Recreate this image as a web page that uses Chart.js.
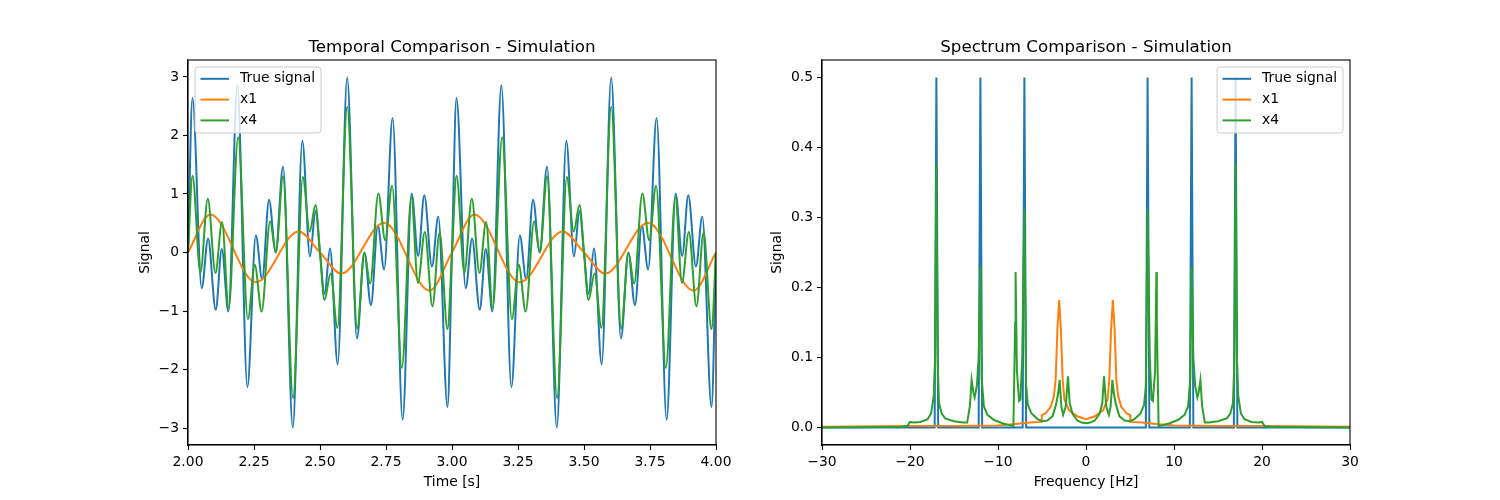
<!DOCTYPE html>
<html>
<head>
<meta charset="utf-8">
<script src="https://cdn.jsdelivr.net/npm/chart.js@4.4.1/dist/chart.umd.min.js"></script>
<style>
  html, body { margin: 0; padding: 0; background: #fff; }
  #wrap { position: relative; width: 1500px; height: 500px; }
  .panel { position: absolute; top: 0; width: 750px; height: 500px; }
</style>
</head>
<body>
<div id="wrap">
  <div class="panel" style="left:0"><canvas id="time-chart" width="750" height="500"></canvas></div>
  <div class="panel" style="left:750px"><canvas id="spec-chart" width="750" height="500"></canvas></div>
</div>
<script>
// time domain (extrema of each curve)
const timeTrue = [2.000, 2.017, 2.052, 2.076, 2.105, 2.128, 2.153, 2.187, 2.225, 2.257, 2.281, 2.307, 2.332, 2.360, 2.397, 2.433, 2.462, 2.483,
  2.500, 2.517, 2.538, 2.567, 2.603, 2.640, 2.668, 2.693, 2.719, 2.743, 2.775, 2.813, 2.847, 2.872, 2.895, 2.924, 2.948, 2.983,
  3.000, 3.017, 3.052, 3.076, 3.105, 3.128, 3.153, 3.187, 3.225, 3.257, 3.281, 3.307, 3.332, 3.360, 3.397, 3.433, 3.462, 3.483,
  3.500, 3.517, 3.538, 3.567, 3.603, 3.640, 3.668, 3.693, 3.719, 3.743, 3.775, 3.813, 3.847, 3.872, 3.895, 3.924, 3.948, 3.983, 4.000];
const sigTrue = [0, 2.64, -0.61, 0.24, -0.98, 0.06, -1.01, 2.86, -2.30, 0.29, -0.46, 0.90, 0.01, 1.47, -2.99, 1.91, -0.07, 0.71,
  0, -0.71, 0.07, -1.91, 2.99, -1.47, -0.01, -0.90, 0.46, -0.29, 2.30, -2.86, 1.01, -0.06, 0.98, -0.24, 0.61, -2.64,
  0, 2.64, -0.61, 0.24, -0.98, 0.06, -1.01, 2.86, -2.30, 0.29, -0.46, 0.90, 0.01, 1.47, -2.99, 1.91, -0.07, 0.71,
  0, -0.71, 0.07, -1.91, 2.99, -1.47, -0.01, -0.90, 0.46, -0.29, 2.30, -2.86, 1.01, -0.06, 0.98, -0.24, 0.61, -2.64, 0];

const timeX1 = [2.000, 2.085, 2.257, 2.419, 2.500, 2.581, 2.743, 2.915, 3.000, 3.085, 3.257, 3.419, 3.500, 3.581, 3.743, 3.915, 4.000];
const sigX1 = [0, 0.65, -0.51, 0.36, 0, -0.36, 0.51, -0.65, 0, 0.65, -0.51, 0.36, 0, -0.36, 0.51, -0.65, 0];

const timeX4 = [2.000, 2.017, 2.047, 2.075, 2.104, 2.129, 2.154, 2.190, 2.227, 2.253, 2.279, 2.311, 2.333, 2.360, 2.398, 2.435, 2.461, 2.483,
  2.500, 2.517, 2.540, 2.566, 2.603, 2.641, 2.668, 2.690, 2.721, 2.747, 2.773, 2.810, 2.846, 2.871, 2.897, 2.926, 2.953, 2.983,
  3.000, 3.017, 3.047, 3.075, 3.104, 3.129, 3.154, 3.190, 3.227, 3.253, 3.279, 3.311, 3.333, 3.360, 3.398, 3.435, 3.461, 3.483,
  3.500, 3.517, 3.540, 3.566, 3.603, 3.641, 3.668, 3.690, 3.721, 3.747, 3.773, 3.810, 3.846, 3.871, 3.897, 3.926, 3.953, 3.983, 4.000];
const sigX4 = [0, 1.31, -0.34, 0.92, -0.35, 0.52, -0.95, 1.97, -1.14, -0.21, -1.01, 0.53, 0.00, 1.30, -2.49, 1.29, 0.36, 0.81,
  0, -0.81, -0.36, -1.29, 2.49, -1.30, 0.00, -0.53, 1.01, 0.21, 1.14, -1.97, 0.95, -0.52, 0.35, -0.92, 0.34, -1.31,
  0, 1.31, -0.34, 0.92, -0.35, 0.52, -0.95, 1.97, -1.14, -0.21, -1.01, 0.53, 0.00, 1.30, -2.49, 1.29, 0.36, 0.81,
  0, -0.81, -0.36, -1.29, 2.49, -1.30, 0.00, -0.53, 1.01, 0.21, 1.14, -1.97, 0.95, -0.52, 0.35, -0.92, 0.34, -1.31, 0];

// spectrum
const freqTrue = [-30, -17.2, -17, -16.8, -12.2, -12, -11.8, -7.2, -7, -6.8, 6.8, 7, 7.2, 11.8, 12, 12.2, 16.8, 17, 17.2, 30];
const specTrue = [0, 0, 0.5, 0, 0, 0.5, 0, 0, 0.5, 0, 0, 0.5, 0, 0, 0.5, 0, 0, 0.5, 0, 0];

const freqX1 = [-30, -20, -15, -10, -8, -6.4, -5.05, -5.0, -4.6, -4.0, -3.65, -3.45, -3.25, -3.05, -2.85, -2.65, -2.45, -1.95, -1.0,
  0, 1.0, 1.95, 2.45, 2.65, 2.85, 3.05, 3.25, 3.45, 3.65, 4.0, 4.6, 5.0, 5.05, 6.4, 8, 10, 15, 20, 30];
const specX1 = [0.001, 0.002, 0.002, 0.003, 0.005, 0.007, 0.008, 0.018, 0.02, 0.03, 0.045, 0.068, 0.14, 0.182, 0.14, 0.068, 0.04, 0.025, 0.016,
  0.012, 0.016, 0.025, 0.04, 0.068, 0.14, 0.182, 0.14, 0.068, 0.045, 0.03, 0.02, 0.018, 0.008, 0.007, 0.005, 0.003, 0.002, 0.002, 0.001];

const freqX4 = [-30, -21, -20.3, -20.0, -19.6, -18.8, -18.0, -17.6, -17.3, -17.15, -17.0, -16.85, -16.7, -16.4, -16.0, -15.0, -14.0,
  -13.5, -13.2, -13.0, -12.8, -12.65, -12.4, -12.2, -12.0, -11.85, -11.6, -11.2, -10.5, -9.5, -8.6, -8.25, -8.05, -8.0, -7.85,
  -7.6, -7.45, -7.25, -7.0, -6.8, -6.6, -6.2, -5.5, -5.0, -4.4, -3.8, -3.4, -3.15, -3.0, -2.8, -2.6, -2.3, -2.05, -1.85, -1.55,
  -1.0, -0.5, 0, 0.5, 1.0, 1.55, 1.85, 2.05, 2.3, 2.6, 2.8, 3.0, 3.15, 3.4, 3.8, 4.4, 5.0, 5.5, 6.2, 6.6, 6.8, 7.0, 7.25, 7.45,
  7.6, 7.85, 8.0, 8.05, 8.25, 8.6, 9.5, 10.5, 11.2, 11.6, 11.85, 12.0, 12.2, 12.4, 12.65, 12.8, 13.0, 13.2, 13.5, 14.0, 15.0,
  16.0, 16.4, 16.7, 16.85, 17.0, 17.15, 17.3, 17.6, 18.0, 18.8, 19.6, 20.0, 20.3, 21, 30];
const specX4 = [0, 0.001, 0.002, 0.008, 0.007, 0.008, 0.012, 0.02, 0.045, 0.1, 0.376, 0.09, 0.035, 0.02, 0.013, 0.009, 0.007,
  0.007, 0.03, 0.068, 0.05, 0.043, 0.06, 0.1, 0.23, 0.07, 0.03, 0.018, 0.011, 0.006, 0.003, 0.002, 0.15, 0.222, 0.08,
  0.038, 0.04, 0.1, 0.311, 0.06, 0.032, 0.02, 0.012, 0.009, 0.01, 0.016, 0.033, 0.05, 0.068, 0.03, 0.018, 0.03, 0.073, 0.035, 0.02,
  0.01, 0.007, 0.006, 0.007, 0.01, 0.02, 0.035, 0.073, 0.03, 0.018, 0.03, 0.068, 0.05, 0.033, 0.016, 0.01, 0.009, 0.012, 0.02, 0.032, 0.06, 0.311, 0.1, 0.04,
  0.038, 0.08, 0.222, 0.15, 0.002, 0.003, 0.006, 0.011, 0.018, 0.03, 0.07, 0.23, 0.1, 0.06, 0.043, 0.05, 0.068, 0.03, 0.007, 0.007, 0.009,
  0.013, 0.02, 0.035, 0.09, 0.376, 0.1, 0.045, 0.02, 0.012, 0.008, 0.007, 0.008, 0.002, 0.001, 0];

const seriesLabels = ['True signal', 'x1', 'x4'];
const seriesColors = ['#1f77b4', '#ff7f0e', '#2ca02c'];

const FONT = '13.9px "DejaVu Sans"';
Chart.defaults.font.family = 'DejaVu Sans';
Chart.defaults.font.size = 13.9;
Chart.defaults.color = '#000';

const minus = v => (v < 0 ? '\u2212' + Math.abs(v) : String(v));
const pts = (xs, ys) => xs.map((x, i) => ({ x, y: ys[i] }));

// frame on all four sides, titles, axis labels and the in-axes legend
const mplFrame = {
  id: 'mplFrame',
  afterDraw(chart, args, o) {
    const { ctx, chartArea: a } = chart;
    const cx = (a.left + a.right) / 2;
    ctx.save();
    ctx.strokeStyle = '#000';
    ctx.lineWidth = 1.1;
    ctx.strokeRect(a.left, a.top, a.right - a.left, a.bottom - a.top);

    ctx.fillStyle = '#000';
    ctx.textAlign = 'center';
    ctx.textBaseline = 'alphabetic';
    ctx.font = '16.7px "DejaVu Sans"';
    ctx.fillText(o.title, cx, a.top - 8.3);
    ctx.font = FONT;
    ctx.fillText(o.xLabel, cx, 486);
    ctx.save();
    ctx.translate(a.left - o.yLabelGap, (a.top + a.bottom) / 2);
    ctx.rotate(-Math.PI / 2);
    ctx.fillText(o.yLabel, 0, 0);
    ctx.restore();

    const w = 126, h = 66;
    const bx = o.legendAt === 'right' ? a.right - 7 - w : a.left + 7;
    const by = a.top + 7;
    ctx.beginPath();
    ctx.roundRect(bx, by, w, h, 3);
    ctx.fillStyle = 'rgba(255,255,255,0.8)';
    ctx.fill();
    ctx.strokeStyle = '#cccccc';
    ctx.lineWidth = 1;
    ctx.stroke();
    seriesLabels.forEach((label, i) => {
      const y = by + 11.8 + i * 20.8;
      ctx.strokeStyle = seriesColors[i];
      ctx.lineWidth = 2;
      ctx.beginPath();
      ctx.moveTo(bx + 5.5, y);
      ctx.lineTo(bx + 34, y);
      ctx.stroke();
      ctx.fillStyle = '#000';
      ctx.textAlign = 'left';
      ctx.textBaseline = 'middle';
      ctx.fillText(label, bx + 45, y);
    });
    ctx.restore();
  }
};

function axis(min, max, step, fmt, fit) {
  return {
    type: 'linear', min, max,
    ticks: { stepSize: step, includeBounds: false, autoSkip: false, maxRotation: 0, padding: 4, color: '#000', callback: fmt },
    grid: { display: true, drawOnChartArea: false, drawTicks: true, tickLength: 5, tickColor: '#000', tickWidth: 1.1 },
    border: { display: true, color: '#000', width: 1.1 },
    afterFit: fit
  };
}

function makeDatasets(series, smooth) {
  return series.map((s, i) => ({
    label: seriesLabels[i],
    data: pts(s[0], s[1]),
    borderColor: seriesColors[i],
    borderWidth: 2,
    pointRadius: 0,
    fill: false,
    tension: 0,
    cubicInterpolationMode: smooth ? 'monotone' : 'default',
    order: 3 - i
  }));
}

function buildChart(id, cfg) {
  new Chart(document.getElementById(id), {
    type: 'line',
    data: { datasets: cfg.datasets },
    options: {
      responsive: false,
      animation: false,
      events: [],
      layout: { padding: { left: 0, top: 60, right: cfg.padRight, bottom: 0 } },
      plugins: {
        legend: { display: false },
        title: { display: false },
        tooltip: { enabled: false },
        mplFrame: cfg.frame
      },
      scales: {
        x: axis(cfg.x[0], cfg.x[1], cfg.x[2], cfg.x[3], s => { s.height = 55; }),
        y: axis(cfg.y[0], cfg.y[1], cfg.y[2], cfg.y[3], s => { s.width = cfg.yWidth; })
      }
    },
    plugins: [mplFrame]
  });
}

buildChart('time-chart', {
  datasets: makeDatasets([[timeTrue, sigTrue], [timeX1, sigX1], [timeX4, sigX4]], true),
  padRight: 34,
  yWidth: 188,
  x: [2, 4, 0.25, v => v.toFixed(2)],
  y: [-3.29, 3.29, 1, v => minus(v)],
  frame: { title: 'Temporal Comparison - Simulation', xLabel: 'Time [s]', yLabel: 'Signal', yLabelGap: 39.1, legendAt: 'left' }
});

buildChart('spec-chart', {
  datasets: makeDatasets([[freqTrue, specTrue], [freqX1, specX1], [freqX4, specX4]], false),
  padRight: 150,
  yWidth: 72,
  x: [-30, 30, 10, v => minus(v)],
  y: [-0.025, 0.525, 0.1, v => v.toFixed(1)],
  frame: { title: 'Spectrum Comparison - Simulation', xLabel: 'Frequency [Hz]', yLabel: 'Signal', yLabelGap: 40.7, legendAt: 'right' }
});
</script>
</body>
</html>
